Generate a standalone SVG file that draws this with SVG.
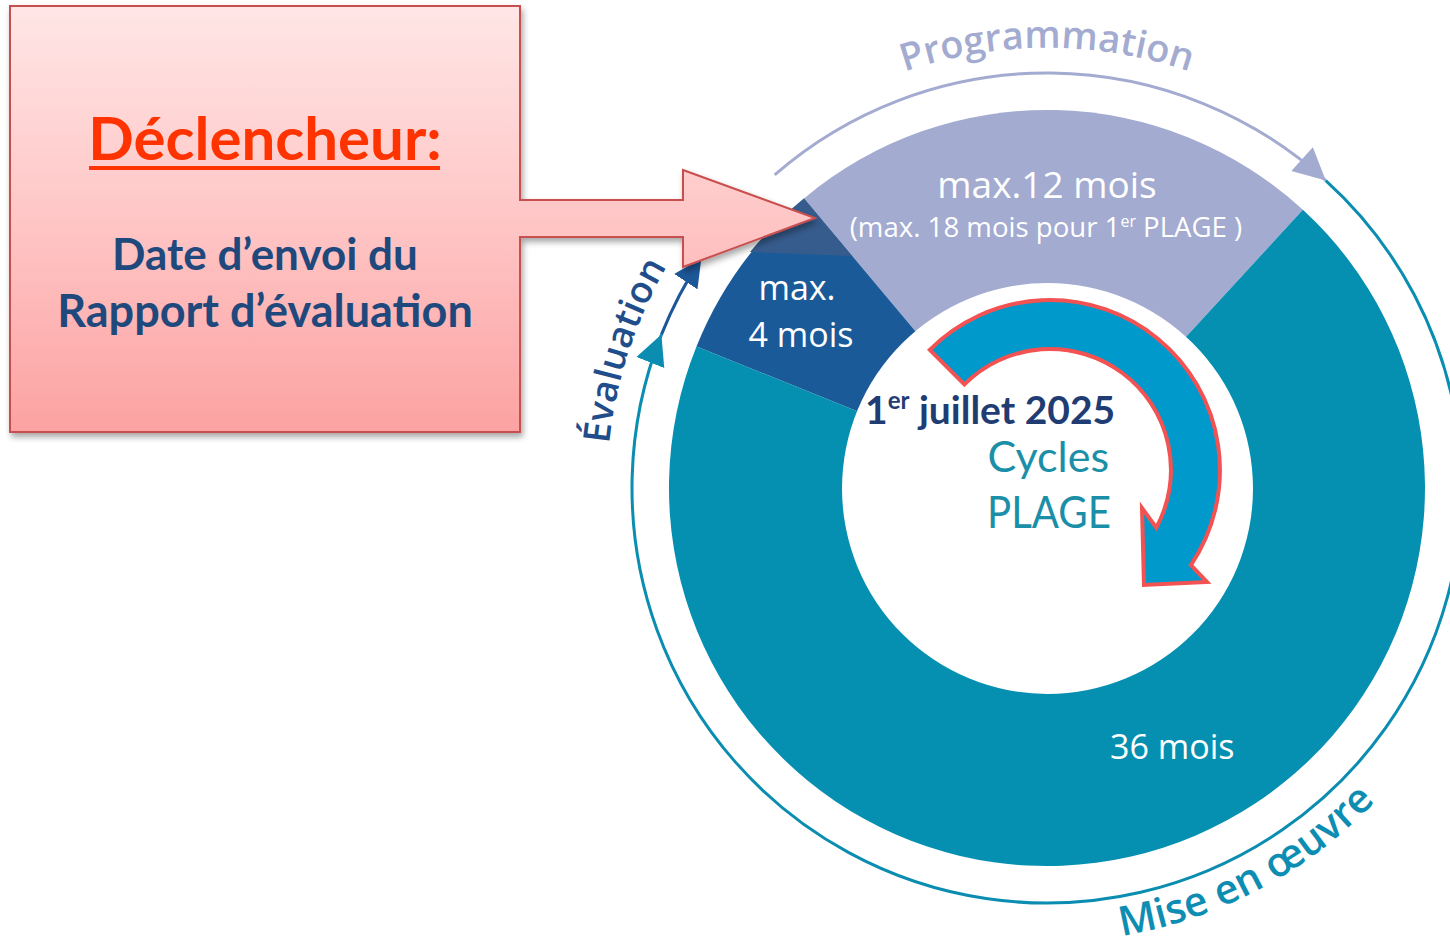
<svg xmlns="http://www.w3.org/2000/svg" width="1450" height="944" viewBox="0 0 1450 944">
<defs>
<style>
.seg-lav{fill:#a3abd0}
.seg-blue{fill:#1b5a99}
.seg-slate{fill:#365c8d}
.seg-teal{fill:#058fb0}
.w{fill:#ffffff;font-family:"Open Sans","Noto Sans",sans-serif}
.arcl{fill:none;stroke-width:3}
.lbl{font-family:"Open Sans","Noto Sans",sans-serif;font-weight:600}
.cal{font-family:Lato,"Liberation Sans",sans-serif}
</style>
<linearGradient id="pink" gradientUnits="userSpaceOnUse" x1="0" y1="6" x2="0" y2="432">
<stop offset="0" stop-color="#ffe6e6"/>
<stop offset="0.5" stop-color="#ffc6c6"/>
<stop offset="1" stop-color="#fca2a2"/>
</linearGradient>
<filter id="shadow" x="-5%" y="-5%" width="115%" height="115%">
<feDropShadow dx="2" dy="4" stdDeviation="3" flood-color="#000" flood-opacity="0.35"/>
</filter>
<marker id="mLav" viewBox="0 0 10 10" refX="10" refY="5" markerUnits="userSpaceOnUse" markerWidth="36" markerHeight="32" orient="auto"><path d="M0,0 L10,5 L0,10 Z" fill="#a3abd0"/></marker>
<marker id="mTeal" viewBox="0 0 10 10" refX="10" refY="5" markerUnits="userSpaceOnUse" markerWidth="30" markerHeight="32" orient="auto"><path d="M0,0 L10,5 L0,10 Z" fill="#0a8db0"/></marker>
<marker id="mBlue" viewBox="0 0 10 10" refX="10" refY="5" markerUnits="userSpaceOnUse" markerWidth="28" markerHeight="28" orient="auto"><path d="M0,0 L10,5 L0,10 Z" fill="#1d5797"/></marker>
<path id="pProg" d="M633.5,337.5 A440,440 0 0 1 1460.5,337.5"/>
<path id="pEval" d="M639,652.8 A440,440 0 0 1 813.8,114.9"/>
<path id="pMise" d="M689.1,766.3 A453,453 0 0 0 1477.8,348"/>
</defs>
<rect width="1450" height="944" fill="#ffffff"/>

<g id="ring">
<g id="seg-programmation">
<path class="seg-lav" d="M1047,488 L804,198.4 A378,378 0 0 1 1302.9,209.8 Z"/>
</g>
<g id="seg-evaluation">
<path class="seg-blue" d="M1047,488 L696.5,346.4 A378,378 0 0 1 804,198.4 Z"/>
<path class="seg-slate" d="M804,198.4 A378,378 0 0 0 750,252 L852,256 Z"/>
</g>
<g id="seg-mise">
<path class="seg-teal" d="M1047,488 L1302.9,209.8 A378,378 0 1 1 696.5,346.4 Z"/>
</g>
<circle id="hole" cx="1047.5" cy="488.5" r="205.5" fill="#ffffff"/>
</g>

<g id="connectors">
<path class="arcl" stroke="#a3abd0" d="M774.7,174.8 A415,415 0 0 1 1325.8,180.6" marker-end="url(#mLav)"/>
<path class="arcl" stroke="#0a8db0" d="M1325.8,180.6 A415,415 0 1 1 661.4,334.6" marker-end="url(#mTeal)"/>
<path class="arcl" stroke="#1d5797" d="M661.4,334.6 A415,415 0 0 1 701.3,258.3" marker-end="url(#mBlue)"/>
</g>

<g id="label-programmation">
<text class="lbl" font-size="38" fill="#a3abd0"><textPath href="#pProg" startOffset="50%" text-anchor="middle">Programmation</textPath></text>
</g>
<g id="label-evaluation">
<text class="lbl" font-size="37" font-weight="700" fill="#1f4e8a"><textPath href="#pEval" startOffset="50%" text-anchor="middle">Évaluation</textPath></text>
</g>
<g id="label-mise">
<text class="lbl" font-size="41" fill="#0e8db3"><textPath href="#pMise" startOffset="50%" text-anchor="middle">Mise en œuvre</textPath></text>
</g>

<g id="text-prog">
<text class="w" x="1047" y="198" font-size="37" text-anchor="middle">max.12 mois</text>
<text class="w" x="1046" y="237" font-size="27.6" text-anchor="middle">(max. 18 mois pour 1<tspan font-size="16" dy="-10">er</tspan><tspan dy="10"> PLAGE )</tspan></text>
</g>
<g id="text-eval">
<text class="w" x="797" y="300" font-size="34" text-anchor="middle">max.</text>
<text class="w" x="801" y="347" font-size="34" text-anchor="middle">4 mois</text>
</g>
<g id="text-mise">
<text class="w" x="1110" y="759" font-size="34">36 mois</text>
</g>

<g id="cycle-arrow">
<path d="M929.8,349.8 A170,170 0 0 1 1190.9,565.1 L1207,582 L1144,585 L1142,508 L1156.3,527.7 A121,121 0 0 0 964.4,384.4 Z" fill="#0099cc" stroke="#f25252" stroke-width="4" stroke-linejoin="miter"/>
</g>

<g id="center-text">
<text class="cal" x="865" y="424" font-size="39" font-weight="700" fill="#1f3d73">1<tspan font-size="24" dy="-15">er</tspan><tspan dy="15"> juillet 2025</tspan></text>
<text class="cal" x="1109" y="472" font-size="43" fill="#1b8fa8" text-anchor="end">Cycles</text>
<text class="cal" x="1111" y="528" font-size="45" fill="#1b8fa8" text-anchor="end" textLength="124" lengthAdjust="spacingAndGlyphs">PLAGE</text>
</g>

<g id="trigger">
<path d="M10,6 H520 V200 H683 V170 L815,218 L683,267 V237 H520 V432 H10 Z" fill="url(#pink)" stroke="#c9504f" stroke-width="2" filter="url(#shadow)"/>
<text class="cal" x="265" y="160" font-size="60" font-weight="700" fill="#ff3300" text-anchor="middle">Déclencheur:</text>
<rect x="89" y="166" width="351" height="4" fill="#ff3300"/>
<text class="cal" x="265" y="270" font-size="44" font-weight="700" fill="#1f497d" text-anchor="middle">Date d’envoi du</text>
<text class="cal" x="265" y="327" font-size="45" font-weight="700" fill="#1f497d" text-anchor="middle">Rapport d’évaluation</text>
</g>
</svg>
